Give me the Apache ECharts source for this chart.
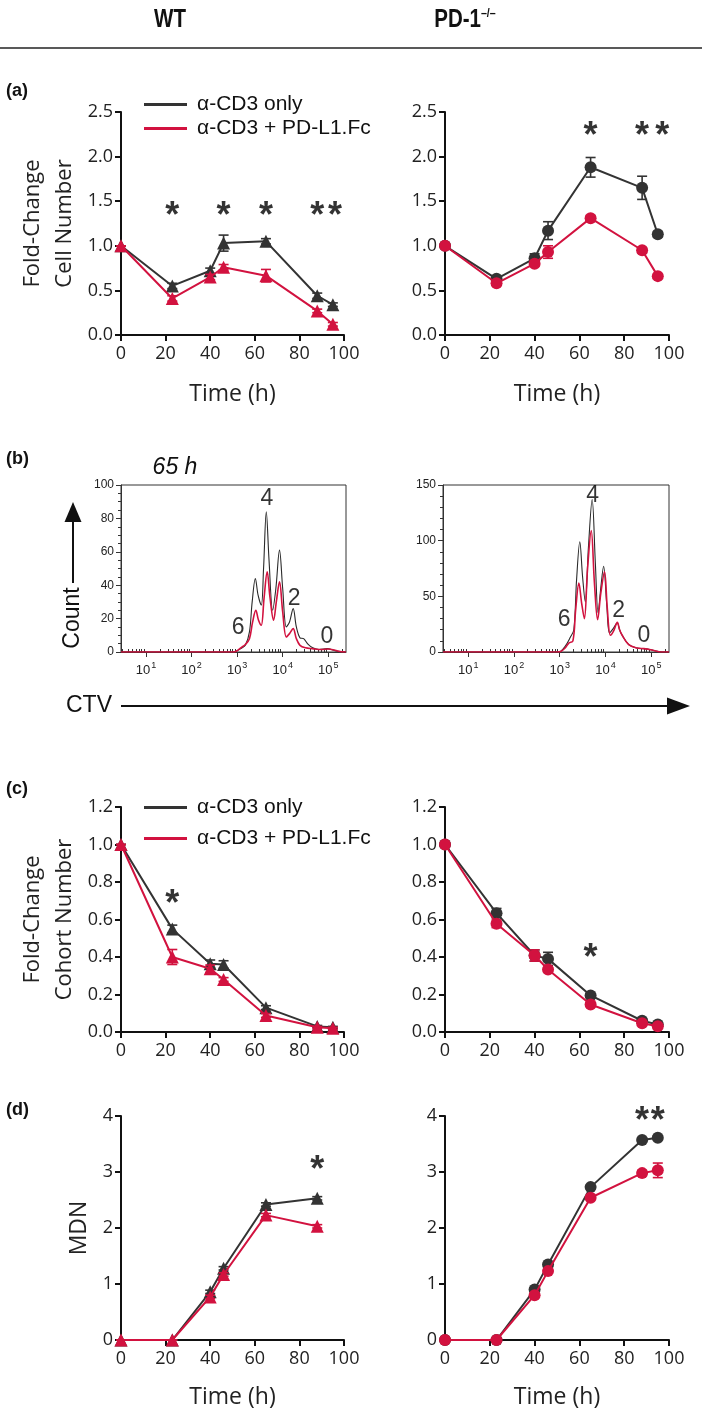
<!DOCTYPE html>
<html><head><meta charset="utf-8">
<script src="https://cdn.jsdelivr.net/npm/echarts@6/dist/echarts.min.js"></script>
<style>html,body{margin:0;padding:0;background:#fff}#c{width:702px;height:1418px}</style>
</head><body><div id="c"></div>
<script>
// ---------- data ----------
const timeH = [0, 23, 40, 46, 65, 88, 95];
const timeMDN_WT = [0, 23, 40, 46, 65, 88];
const seriesNames = ['α-CD3 only', 'α-CD3 + PD-L1.Fc'];

// (a) fold-change cell number
const cellWT_ctrl = [1.0, 0.55, 0.72, 1.03, 1.05, 0.44, 0.34];
const cellWT_ctrl_err = [0, 0.03, 0.03, 0.09, 0.03, 0.03, 0.02];
const cellWT_pdl1 = [1.0, 0.41, 0.65, 0.76, 0.665, 0.27, 0.12];
const cellWT_pdl1_err = [0, 0.03, 0.03, 0.03, 0.07, 0.02, 0.02];
const cellKO_ctrl = [1.0, 0.63, 0.86, 1.17, 1.88, 1.65, 1.13];
const cellKO_ctrl_err = [0, 0.02, 0.05, 0.10, 0.11, 0.13, 0.03];
const cellKO_pdl1 = [1.0, 0.58, 0.80, 0.93, 1.31, 0.95, 0.66];
const cellKO_pdl1_err = [0, 0.02, 0.03, 0.07, 0.03, 0.03, 0.02];

// (c) fold-change cohort number
const cohWT_ctrl = [1.0, 0.55, 0.364, 0.36, 0.13, 0.03, 0.025];
const cohWT_ctrl_err = [0, 0.02, 0.02, 0.02, 0.01, 0.005, 0.005];
const cohWT_pdl1 = [1.0, 0.40, 0.337, 0.28, 0.088, 0.025, 0.02];
const cohWT_pdl1_err = [0, 0.04, 0.02, 0.01, 0.01, 0.005, 0.005];
const cohKO_ctrl = [1.0, 0.634, 0.408, 0.39, 0.195, 0.06, 0.04];
const cohKO_ctrl_err = [0, 0.025, 0.03, 0.035, 0.01, 0.01, 0.005];
const cohKO_pdl1 = [1.0, 0.577, 0.408, 0.333, 0.147, 0.047, 0.031];
const cohKO_pdl1_err = [0, 0.02, 0.03, 0.01, 0.01, 0.005, 0.005];

// (d) MDN
const mdnWT_ctrl = [0, 0, 0.86, 1.28, 2.42, 2.53];
const mdnWT_ctrl_err = [0, 0, 0.03, 0.03, 0.03, 0.03];
const mdnWT_pdl1 = [0, 0, 0.77, 1.17, 2.23, 2.03];
const mdnWT_pdl1_err = [0, 0, 0.03, 0.03, 0.03, 0.03];
const mdnKO_ctrl = [0, 0, 0.90, 1.35, 2.73, 3.57, 3.61];
const mdnKO_ctrl_err = [0, 0, 0.03, 0.03, 0.03, 0.03, 0.03];
const mdnKO_pdl1 = [0, 0, 0.80, 1.23, 2.54, 2.98, 3.03];
const mdnKO_pdl1_err = [0, 0, 0.03, 0.03, 0.03, 0.05, 0.13];

// significance marks (time, height)
const starA_WT_t = [23, 46, 65, 88, 96], starA_WT_y = [1.43, 1.43, 1.43, 1.43, 1.43];
const starA_KO_t = [65, 88, 97], starA_KO_y = [2.33, 2.33, 2.33];
const starC_WT_t = [23], starC_WT_y = [0.73];
const starC_KO_t = [65], starC_KO_y = [0.44];
const starD_WT_t = [88], starD_WT_y = [3.2];
const starD_KO_t = [88, 95], starD_KO_y = [4.07, 4.07];

// (b) CTV histograms at 65 h: [log10(CTV), count]
const histWT_ctrl = [[0.45,0],[2.9,0],[2.98,0.5],[3.08,2],[3.18,4],[3.27,12],[3.33,30],[3.40,44],[3.46,34],[3.53,28],[3.58,50],[3.64,84],[3.70,55],[3.78,25],[3.85,38],[3.93,61],[4.00,38],[4.08,15],[4.15,18],[4.23,26],[4.30,15],[4.38,8.5],[4.46,8],[4.56,4.5],[4.66,2.5],[4.80,1.5],[4.98,2],[5.12,1],[5.26,0.2],[5.39,0]];
const histWT_pdl1 = [[0.45,0],[2.9,0],[2.98,0.5],[3.08,2.5],[3.18,4.5],[3.27,8],[3.34,18],[3.41,25],[3.47,19],[3.53,16],[3.59,32],[3.66,48],[3.72,33],[3.80,19],[3.86,30],[3.93,42],[4.00,24],[4.08,9],[4.15,11],[4.23,14],[4.30,8],[4.38,4],[4.50,2.5],[4.65,2],[4.85,1.5],[5.0,1.8],[5.15,1],[5.3,0.1],[5.39,0]];
const histKO_ctrl = [[0.45,0],[2.95,0],[3.02,0.5],[3.12,5],[3.23,13],[3.31,20],[3.37,65],[3.44,99],[3.50,68],[3.56,45],[3.63,95],[3.71,137],[3.78,80],[3.84,35],[3.90,58],[3.96,77],[4.03,42],[4.09,17],[4.17,21],[4.26,26],[4.31,20],[4.36,15.5],[4.51,6.6],[4.69,3.6],[4.84,3],[4.99,2],[5.13,0.6],[5.24,0],[5.39,0]];
const histKO_pdl1 = [[0.45,0],[2.95,0],[3.02,0.5],[3.12,3.6],[3.2,8],[3.29,10],[3.35,38],[3.42,62],[3.48,44],[3.54,30],[3.61,75],[3.69,109],[3.76,62],[3.83,29],[3.90,53],[3.98,72],[4.04,40],[4.11,15],[4.18,19],[4.26,26.6],[4.31,20],[4.36,15.5],[4.51,6.6],[4.69,3.6],[4.84,3],[4.99,2],[5.13,0.6],[5.24,0],[5.39,0]];
const histDecades = [1, 2, 3, 4, 5];
// division-number annotations
const divText = ['6', '4', '2', '0'];
const divWT_x = [3.02, 3.655, 4.25, 4.97], divWT_y = [14.4, 92, 32, 9];
const divKO_x = [3.10, 3.72, 4.29, 4.84], divKO_y = [28.7, 140, 36.8, 14.4];

// ---------- styles ----------
const BLACK = '#333333', RED = '#d2123f', AX = '#111';
const OS = 'Open Sans, DejaVu Sans, sans-serif';
const AR = 'Liberation Sans, Arial, sans-serif';

function pairs(xs, ys) { return xs.map((x, i) => [x, ys[i]]); }
function triples(xs, ys, es) { return xs.map((x, i) => [x, ys[i], es[i]]); }

function mainX(g, name, gap) {
  return { gridIndex: g, type: 'value', min: 0, max: 100, interval: 20,
    name: name || '', nameLocation: 'middle', nameGap: gap || 48,
    nameTextStyle: { fontFamily: OS, fontSize: 23, color: '#222' },
    axisLine: { show: true, onZero: false, lineStyle: { color: AX, width: 2 } },
    axisTick: { show: true, length: 6, lineStyle: { color: AX, width: 2 } },
    axisLabel: { fontFamily: OS, fontSize: 18, color: '#222', margin: 10 },
    splitLine: { show: false } };
}
function mainY(g, max, interval, dec, name, gap) {
  return { gridIndex: g, type: 'value', min: 0, max: max, interval: interval,
    name: name || '', nameLocation: 'middle', nameGap: gap || 40,
    nameTextStyle: { fontFamily: OS, fontSize: 22, color: '#222', lineHeight: 32 },
    axisLine: { show: true, onZero: false, lineStyle: { color: AX, width: 2 } },
    axisTick: { show: true, length: 6, lineStyle: { color: AX, width: 2 } },
    axisLabel: { fontFamily: OS, fontSize: 18, color: '#222', margin: 8,
      formatter: v => v.toFixed(dec) },
    splitLine: { show: false } };
}
const minorDecadeTicks = [];
for (let d = 0; d <= 5; d++) for (let k = 2; k <= 9; k++) {
  const v = d + Math.log10(k);
  if (v > 0.46 && v < 5.38) minorDecadeTicks.push(v);
}
function histX(g) {
  return { gridIndex: g, type: 'value', min: 0.45, max: 5.39,
    axisLine: { show: true, onZero: false, lineStyle: { color: '#333', width: 1 } },
    axisTick: { show: true, customValues: histDecades, length: 5, lineStyle: { color: '#333', width: 1 } },
    axisLabel: { customValues: histDecades, margin: 9, color: '#222',
      formatter: v => '{b|10}{s|' + Math.round(v) + '}',
      rich: { b: { fontFamily: AR, fontSize: 13, lineHeight: 16, verticalAlign: 'bottom' },
              s: { fontFamily: AR, fontSize: 9, lineHeight: 16, verticalAlign: 'top', padding: [0, 0, 0, 1] } } },
    splitLine: { show: false } };
}
function histXMinor(g) {
  return { gridIndex: g, type: 'value', min: 0.45, max: 5.39,
    axisLine: { show: false },
    axisTick: { show: true, customValues: minorDecadeTicks, length: 3, lineStyle: { color: '#333', width: 1 } },
    axisLabel: { show: false }, splitLine: { show: false } };
}
function histY(g, max, interval, minorSplit) {
  return { gridIndex: g, type: 'value', min: 0, max: max, interval: interval,
    axisLine: { show: true, onZero: false, lineStyle: { color: '#333', width: 1 } },
    axisTick: { show: true, length: 5, lineStyle: { color: '#333', width: 1 } },
    minorTick: { show: true, splitNumber: minorSplit, length: 3, lineStyle: { color: '#333', width: 1 } },
    axisLabel: { fontFamily: AR, fontSize: 12, color: '#222', margin: 7 },
    splitLine: { show: false }, minorSplitLine: { show: false } };
}

function errRender(params, api) {
  const x = api.value(0), y = api.value(1), e = api.value(2);
  const top = api.coord([x, y + e]), bot = api.coord([x, y - e]);
  const hw = 5, st = { stroke: api.visual('color'), lineWidth: 1.6 };
  return { type: 'group', children: [
    { type: 'line', shape: { x1: top[0], y1: top[1], x2: bot[0], y2: bot[1] }, style: st },
    { type: 'line', shape: { x1: top[0] - hw, y1: top[1], x2: top[0] + hw, y2: top[1] }, style: st },
    { type: 'line', shape: { x1: bot[0] - hw, y1: bot[1], x2: bot[0] + hw, y2: bot[1] }, style: st }
  ] };
}

const series = [];
function addPanel(g, xs, ctrl, ctrlErr, pdl, pdlErr, symbol, starT, starY) {
  const sz = symbol === 'triangle' ? 13 : 12;
  [[ctrl, ctrlErr, BLACK, 0], [pdl, pdlErr, RED, 1]].forEach(([ys, es, col, k]) => {
    series.push({ type: 'custom', name: 'err' + g + k, xAxisIndex: g, yAxisIndex: g,
      renderItem: errRender, itemStyle: { color: col }, data: triples(xs.slice(0, ys.length), ys, es),
      z: 2 + k * 2, silent: true, clip: false });
    series.push({ type: 'line', name: seriesNames[k], xAxisIndex: g, yAxisIndex: g,
      data: pairs(xs.slice(0, ys.length), ys), symbol: symbol, symbolSize: sz, showSymbol: true,
      itemStyle: { color: col }, lineStyle: { color: col, width: 2 }, z: 3 + k * 2, clip: false });
  });
  series.push({ type: 'scatter', name: 'sig' + g, xAxisIndex: g, yAxisIndex: g,
    data: pairs(starT, starY), symbol: 'circle', symbolSize: 1, clip: false, silent: true,
    itemStyle: { color: 'rgba(0,0,0,0)' },
    label: { show: true, position: 'inside', formatter: '*', fontFamily: AR, fontSize: 36,
      fontWeight: 'bold', color: '#000', offset: [0, 10] }, z: 10 });
}
addPanel(0, timeH, cellWT_ctrl, cellWT_ctrl_err, cellWT_pdl1, cellWT_pdl1_err, 'triangle', starA_WT_t, starA_WT_y);
addPanel(1, timeH, cellKO_ctrl, cellKO_ctrl_err, cellKO_pdl1, cellKO_pdl1_err, 'circle', starA_KO_t, starA_KO_y);
addPanel(4, timeH, cohWT_ctrl, cohWT_ctrl_err, cohWT_pdl1, cohWT_pdl1_err, 'triangle', starC_WT_t, starC_WT_y);
addPanel(5, timeH, cohKO_ctrl, cohKO_ctrl_err, cohKO_pdl1, cohKO_pdl1_err, 'circle', starC_KO_t, starC_KO_y);
addPanel(6, timeMDN_WT, mdnWT_ctrl, mdnWT_ctrl_err, mdnWT_pdl1, mdnWT_pdl1_err, 'triangle', starD_WT_t, starD_WT_y);
addPanel(7, timeH, mdnKO_ctrl, mdnKO_ctrl_err, mdnKO_pdl1, mdnKO_pdl1_err, 'circle', starD_KO_t, starD_KO_y);

function addHist(g, ctrl, pdl, lx, ly) {
  series.push({ type: 'line', name: 'hist-ctrl' + g, xAxisIndex: g, yAxisIndex: g, data: ctrl,
    showSymbol: false, symbol: 'none', smooth: 0.35, lineStyle: { color: '#2a2a2a', width: 1.1 }, z: 3 });
  series.push({ type: 'line', name: 'hist-pdl' + g, xAxisIndex: g, yAxisIndex: g, data: pdl,
    showSymbol: false, symbol: 'none', smooth: 0.35, lineStyle: { color: RED, width: 1.6 }, z: 4 });
  series.push({ type: 'scatter', name: 'div' + g, xAxisIndex: g, yAxisIndex: g,
    data: lx.map((x, i) => ({ value: [x, ly[i]], name: divText[i] })),
    symbol: 'circle', symbolSize: 1, itemStyle: { color: 'rgba(0,0,0,0)' }, silent: true, clip: false,
    label: { show: true, position: 'inside', formatter: p => p.name, fontFamily: AR, fontSize: 23, color: '#000' }, z: 6 });
}
addHist(2, histWT_ctrl, histWT_pdl1, divWT_x, divWT_y);
addHist(3, histKO_ctrl, histKO_pdl1, divKO_x, divKO_y);

const gridBase = { outerBoundsMode: 'none', containLabel: false };
const grids = [
  { left: 121, top: 112, width: 223, height: 223 },
  { left: 445, top: 112, width: 224, height: 223 },
  { left: 121, top: 485, width: 225, height: 167, show: true, borderColor: '#333', borderWidth: 1 },
  { left: 443, top: 485, width: 226, height: 167, show: true, borderColor: '#333', borderWidth: 1 },
  { left: 121, top: 807, width: 223, height: 225 },
  { left: 445, top: 807, width: 224, height: 225 },
  { left: 121, top: 1116, width: 223, height: 224 },
  { left: 445, top: 1116, width: 224, height: 224 }
].map(g => Object.assign({}, gridBase, g));

const xAxes = [
  mainX(0, 'Time (h)', 48), mainX(1, 'Time (h)', 48), histX(2), histX(3),
  mainX(4), mainX(5), mainX(6, 'Time (h)', 46), mainX(7, 'Time (h)', 46),
  histXMinor(2), histXMinor(3)
];
const yAxes = [
  mainY(0, 2.5, 0.5, 1, 'Fold-Change\nCell Number', 40), mainY(1, 2.5, 0.5, 1),
  histY(2, 100, 20, 4), histY(3, 150, 50, 5),
  mainY(4, 1.2, 0.2, 1, 'Fold-Change\nCohort Number', 40), mainY(5, 1.2, 0.2, 1),
  mainY(6, 4, 1, 0, 'MDN', 26), mainY(7, 4, 1, 0)
];
yAxes[6].nameTextStyle.fontSize = 23;

const legendBase = { orient: 'vertical', left: 139, itemWidth: 43, itemHeight: 3, icon: 'rect',
  data: seriesNames, selectedMode: false,
  textStyle: { fontFamily: AR, fontSize: 21, color: '#111', padding: [0, 0, 0, 5] } };
const legends = [
  Object.assign({}, legendBase, { top: 89, itemGap: 3 }),
  Object.assign({}, legendBase, { top: 792, itemGap: 10 })
];

const bold = { fontFamily: AR, fontWeight: 'bold', fill: '#111' };
const graphic = [
  { type: 'text', x: 170, y: 20, scaleX: 0.82, style: Object.assign({ text: 'WT', fontSize: 25, align: 'center', verticalAlign: 'middle' }, bold) },
  { type: 'text', x: 465, y: 20, scaleX: 0.82, style: Object.assign({
      text: '{m|PD-1}{s|–/–}', align: 'center', verticalAlign: 'middle',
      rich: { m: { fontFamily: AR, fontWeight: 'bold', fontSize: 25, lineHeight: 26, verticalAlign: 'bottom', fill: '#111' },
              s: { fontFamily: AR, fontWeight: 'bold', fontSize: 13, lineHeight: 26, verticalAlign: 'top', fill: '#111' } } }, bold) },
  { type: 'line', shape: { x1: 0, y1: 48, x2: 702, y2: 48 }, style: { stroke: '#222', lineWidth: 1.5 } },
  { type: 'text', x: 6, y: 91, style: Object.assign({ text: '(a)', fontSize: 18, verticalAlign: 'middle' }, bold) },
  { type: 'text', x: 6, y: 459, style: Object.assign({ text: '(b)', fontSize: 18, verticalAlign: 'middle' }, bold) },
  { type: 'text', x: 6, y: 789, style: Object.assign({ text: '(c)', fontSize: 18, verticalAlign: 'middle' }, bold) },
  { type: 'text', x: 6, y: 1110, style: Object.assign({ text: '(d)', fontSize: 18, verticalAlign: 'middle' }, bold) },
  { type: 'text', x: 175, y: 468, style: { text: '65 h', fontFamily: AR, fontStyle: 'italic', fontSize: 23, fill: '#111', align: 'center', verticalAlign: 'middle' } },
  { type: 'text', x: 73, y: 618, rotation: Math.PI / 2, style: { text: 'Count', fontFamily: AR, fontSize: 23, fill: '#111', align: 'center', verticalAlign: 'middle' } },
  { type: 'line', shape: { x1: 73, y1: 583, x2: 73, y2: 518 }, style: { stroke: '#111', lineWidth: 2 } },
  { type: 'polygon', shape: { points: [[73, 502], [64.5, 522], [81.5, 522]] }, style: { fill: '#111' } },
  { type: 'text', x: 66, y: 706, style: { text: 'CTV', fontFamily: AR, fontSize: 23, fill: '#111', align: 'left', verticalAlign: 'middle' } },
  { type: 'line', shape: { x1: 121, y1: 706, x2: 672, y2: 706 }, style: { stroke: '#111', lineWidth: 2 } },
  { type: 'polygon', shape: { points: [[690, 706], [667, 697.5], [667, 714.5]] }, style: { fill: '#111' } }
];

const option = {
  animation: false, backgroundColor: '#fff',
  grid: grids, xAxis: xAxes, yAxis: yAxes, legend: legends, series: series, graphic: graphic
};
const chart = echarts.init(document.getElementById('c'), null, { renderer: 'canvas', width: 702, height: 1418 });
chart.setOption(option);
</script></body></html>
